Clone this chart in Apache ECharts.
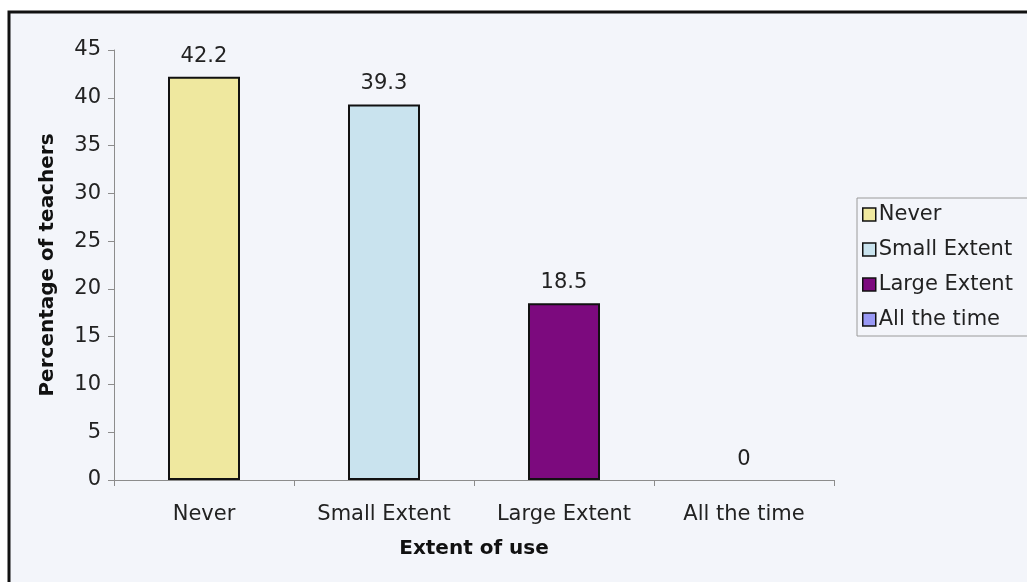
<!DOCTYPE html>
<html>
<head>
<meta charset="utf-8">
<style>
  html, body { margin: 0; padding: 0; background: #ffffff; }
  #chart { width: 1027px; height: 582px; }
</style>
<script src="https://cdn.jsdelivr.net/npm/echarts@6/dist/echarts.min.js"></script>
</head>
<body>
<div id="chart"></div>
<script>
// Extent of use of the resource among teachers (percent)
const categories = ['Never', 'Small Extent', 'Large Extent', 'All the time'];
const values = [42.2, 39.3, 18.5, 0];
const barColors = ['#efe89f', '#c9e3ee', '#7c0a7e', '#9999f5'];
const yTicks = { min: 0, max: 45, interval: 5 };

const FONT = 'DejaVu Sans';
const FS = 21;

// One series per category so each gets its own legend entry;
// barGap -100% lays them on the same slot in each category.
const series = categories.map((name, i) => ({
  name: name,
  type: 'bar',
  barGap: '-100%',
  barWidth: '40%',
  data: values.map((v, j) => (j === i ? v : null)),
  itemStyle: {
    color: barColors[i],
    borderColor: '#111',
    // a zero-height bar leaves no outline on the axis
    borderWidth: values[i] > 0 ? 2 : 0
  },
  label: {
    show: true,
    position: 'top',
    distance: 10,
    color: '#222',
    fontFamily: FONT,
    fontSize: FS
  }
}));

const chart = echarts.init(document.getElementById('chart'), null, { renderer: 'canvas' });
chart.setOption({
  animation: false,
  backgroundColor: '#ffffff',
  graphic: [{
    type: 'rect',
    z: -10,
    shape: { x: 9, y: 12, width: 1100, height: 700 },
    style: { fill: '#f3f5fa', stroke: '#111', lineWidth: 3 }
  }],
  grid: { left: 114, right: 193, top: 50, bottom: 102, containLabel: false },
  legend: {
    orient: 'vertical',
    left: 857,
    top: 198,
    padding: [6, 24, 6, 5],
    itemGap: 14,
    itemWidth: 13,
    itemHeight: 13,
    icon: 'rect',
    backgroundColor: '#f3f5fa',
    borderColor: '#9a9a9a',
    borderWidth: 1,
    borderRadius: 0,
    itemStyle: { borderColor: '#111', borderWidth: 1.5 },
    textStyle: { fontFamily: FONT, fontSize: FS, color: '#222', padding: [0, 0, 0, -2] },
    data: categories
  },
  xAxis: {
    type: 'category',
    data: categories,
    name: 'Extent of use',
    nameLocation: 'middle',
    nameGap: 59,
    nameTextStyle: { fontFamily: FONT, fontSize: 20, fontWeight: 'bold', color: '#111' },
    axisLine: { lineStyle: { color: '#8c8c8c', width: 1 } },
    axisTick: { show: true, alignWithLabel: false, length: 6, lineStyle: { color: '#8c8c8c' } },
    axisLabel: { margin: 24, fontFamily: FONT, fontSize: FS, color: '#222' }
  },
  yAxis: {
    type: 'value',
    min: yTicks.min,
    max: yTicks.max,
    interval: yTicks.interval,
    name: 'Percentage of teachers',
    nameLocation: 'middle',
    nameGap: 56,
    nameTextStyle: { fontFamily: FONT, fontSize: 20, fontWeight: 'bold', color: '#111' },
    axisLine: { show: true, lineStyle: { color: '#8c8c8c', width: 1 } },
    axisTick: { show: true, length: 6, lineStyle: { color: '#8c8c8c' } },
    axisLabel: { margin: 13, fontFamily: FONT, fontSize: FS, color: '#222' },
    splitLine: { show: false }
  },
  series: series
});
</script>
</body>
</html>
